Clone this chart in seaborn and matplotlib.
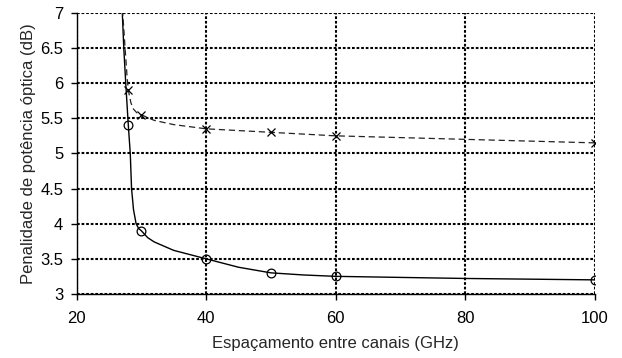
import matplotlib
matplotlib.use("Agg")
import matplotlib.pyplot as plt
import seaborn as sns
import pandas as pd

# Measured data points (markers)
spacing_ghz = [28, 30, 40, 50, 60, 100]
penalty_circle = [5.4, 3.9, 3.5, 3.3, 3.25, 3.2]
penalty_cross = [5.9, 5.55, 5.35, 5.3, 5.25, 5.15]

# Curve traces (smoothed lines)
curve_solid_x = [27.05, 27.3, 27.6, 28.0, 28.3, 28.5, 28.8, 29.2, 29.6, 30.0, 31.0, 32.0, 35.0, 40.0, 45.0, 50.0, 55.0, 60.0, 80.0, 100.0]
curve_solid_y = [7.05, 6.5, 6.0, 5.4, 5.0, 4.5, 4.2, 4.0, 3.93, 3.9, 3.8, 3.74, 3.62, 3.5, 3.38, 3.3, 3.27, 3.25, 3.22, 3.2]
curve_dash_x = [27.1, 27.5, 27.8, 28.0, 28.4, 28.8, 29.3, 30.0, 32.0, 35.0, 40.0, 50.0, 60.0, 80.0, 100.0]
curve_dash_y = [7.05, 6.5, 6.1, 5.9, 5.72, 5.63, 5.58, 5.55, 5.47, 5.41, 5.35, 5.3, 5.25, 5.2, 5.15]

x_ticks = [20, 40, 60, 80, 100]
y_ticks = [3, 3.5, 4, 4.5, 5, 5.5, 6, 6.5, 7]
y_tick_labels = ["3", "3.5", "4", "4.5", "5", "5.5", "6", "6.5", "7"]

sns.set_style("ticks")
plt.rcParams['font.family'] = ['Liberation Sans', 'DejaVu Sans']

fig = plt.figure(figsize=(6.22, 3.58), dpi=100)
ax = fig.add_axes([0.123, 0.179, 0.833, 0.785])

df_solid = pd.DataFrame({"x": curve_solid_x, "y": curve_solid_y})
df_dash = pd.DataFrame({"x": curve_dash_x, "y": curve_dash_y})
sns.lineplot(data=df_solid, x="x", y="y", sort=False, estimator=None, ax=ax,
             color="black", linewidth=1.0, zorder=3)
sns.lineplot(data=df_dash, x="x", y="y", sort=False, estimator=None, ax=ax,
             color="#222222", linewidth=0.9, linestyle=(0, (5, 3)), zorder=3)

ax.plot(spacing_ghz, penalty_circle, linestyle="none", marker="o", markersize=6.3,
        markerfacecolor="none", markeredgecolor="black", markeredgewidth=0.9, zorder=4)
ax.plot(spacing_ghz, penalty_cross, linestyle="none", marker="x", markersize=6.3,
        markeredgecolor="black", markeredgewidth=0.9, zorder=4)

ax.set_xlim(20, 100)
ax.set_ylim(3, 7)
ax.set_xticks(x_ticks)
ax.set_yticks(y_ticks)
ax.set_yticklabels(y_tick_labels)

ax.grid(True, color="black", linestyle=(0, (1.3, 0.9)), linewidth=1.5)
ax.set_axisbelow(True)
for s in ["top", "right"]:
    ax.spines[s].set_visible(False)
for s in ["left", "bottom"]:
    ax.spines[s].set_color("black")
    ax.spines[s].set_linewidth(1.0)

ax.tick_params(axis="both", direction="out", length=4.5, width=1.0, colors="black",
               labelsize=12)
ax.tick_params(axis="x", pad=8)
ax.tick_params(axis="y", pad=5)
ax.set_xlabel("Espaçamento entre canais (GHz)", fontsize=12, labelpad=7)
ax.set_ylabel("Penalidade de potência óptica (dB)", fontsize=12, labelpad=3)

fig.savefig("out.png", dpi=100)
